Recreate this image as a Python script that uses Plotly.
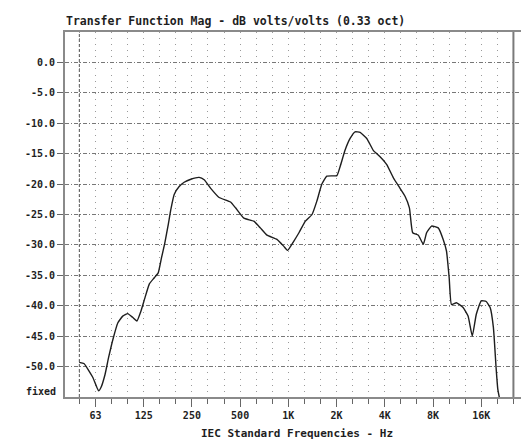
import math
import plotly.graph_objects as go

# ---- data ----
freq_hz = [50, 53.5, 60.8, 66.0, 68.4, 72.4, 76.2, 81.1, 87.0, 93.3, 100.2, 107.4, 114.3, 121.0,
           128.2, 136.6, 146.6, 155.1, 162.6, 170.4, 178.9, 185.7, 194.9, 209.4, 224.8, 247.5,
           278.7, 299.6, 328.9, 370.9, 436.9, 469.4, 528.9, 609.6, 669.2, 736.5, 849.2, 934.7,
           989.6, 1080, 1164, 1276, 1404, 1504, 1616, 1735, 2004, 2100, 2255, 2422, 2601, 2794,
           3074, 3383, 3720, 4094, 4506, 4952, 5318, 5663, 5934, 6435, 6911, 7245, 7777, 8555,
           9186, 9630, 10010, 10340, 11110, 12220, 13120, 13940, 14760, 15840, 17010, 18000,
           18860, 19600, 20080, 21050]
mag_db = [-49.3, -49.5, -51.8, -54.0, -53.4, -51.3, -48.5, -45.5, -42.8, -41.7, -41.3, -41.9,
          -42.5, -40.9, -38.7, -36.4, -35.4, -34.6, -32.1, -29.7, -26.7, -24.2, -21.7, -20.4,
          -19.7, -19.2, -18.9, -19.3, -20.7, -22.2, -22.95, -23.9, -25.6, -26.1, -27.2, -28.4,
          -29.1, -30.2, -30.9, -29.4, -28.0, -26.1, -25.0, -22.8, -20.0, -18.7, -18.6, -17.1,
          -14.4, -12.5, -11.4, -11.5, -12.5, -14.5, -15.5, -16.8, -19.0, -20.7, -22.0, -23.9,
          -28.0, -28.4, -29.9, -28.0, -26.9, -27.2, -29.1, -31.0, -35.4, -39.8, -39.5, -40.3,
          -41.7, -45.0, -41.4, -39.2, -39.3, -40.3, -43.6, -50.2, -53.7, -56.5]

x_tick_vals = [63.1, 125.9, 251.2, 501.2, 1000, 1995, 3981, 7943, 15849]
x_tick_text = ["63", "125", "250", "500", "1K", "2K", "4K", "8K", "16K"]
x_minor_vals = [50.1, 63.1, 79.4, 100, 125.9, 158.5, 199.5, 251.2, 316.2, 398.1, 501.2, 631,
                794.3, 1000, 1259, 1585, 1995, 2512, 3162, 3981, 5012, 6310, 7943, 10000,
                12589, 15849, 19953, 25119]
y_tick_vals = [0, -5, -10, -15, -20, -25, -30, -35, -40, -45, -50]
y_tick_text = ["0.0", "-5.0", "-10.0", "-15.0", "-20.0", "-25.0", "-30.0", "-35.0",
               "-40.0", "-45.0", "-50.0"]
x_range_hz = [40.8, 31400]
y_range_db = [-55, 5]
marker_left_hz = 50.1
marker_right_hz = 25119

MONO = "DejaVu Sans Mono"
INK = "#1e1e1e"
dotdash = "1px,5.08px"

fig = go.Figure()
fig.add_trace(go.Scatter(x=[marker_left_hz, marker_left_hz], y=y_range_db, mode="lines",
                         line=dict(color="#555555", width=1, dash="3px,2px"),
                         hoverinfo="skip"))
fig.add_trace(go.Scatter(x=[marker_right_hz, marker_right_hz], y=y_range_db, mode="lines",
                         line=dict(color="#7a7a7a", width=2), hoverinfo="skip"))
fig.add_trace(go.Scatter(x=freq_hz, y=mag_db, mode="lines",
                         line=dict(color=INK, width=1.4, shape="spline", smoothing=0.4)))

fig.update_layout(
    width=529, height=441,
    margin=dict(l=57, r=6, t=24, b=52),
    plot_bgcolor="white", paper_bgcolor="white",
    showlegend=False,
    title=dict(text="Transfer Function Mag - dB volts/volts (0.33 oct)",
               font=dict(family=MONO, size=11.5, color=INK, weight="bold"),
               xref="container", x=58 / 529, xanchor="left",
               yref="container", y=1 - 13 / 441, yanchor="middle"),
)
fig.update_xaxes(
    type="log",
    range=[math.log10(x_range_hz[0]), math.log10(x_range_hz[1])],
    tickmode="array", tickvals=x_tick_vals, ticktext=x_tick_text,
    ticks="outside", ticklen=8, tickwidth=1, tickcolor="#666666",
    tickfont=dict(family=MONO, size=10, color=INK, weight="bold"),
    showline=True, linecolor="#8a8a8a", linewidth=2, mirror=True,
    showgrid=True, gridcolor="#9a9a9a", gridwidth=1, griddash=dotdash,
    zeroline=False,
    minor=dict(tickmode="array", tickvals=x_minor_vals, ticks="outside", ticklen=5,
               tickwidth=1, tickcolor="#666666",
               showgrid=True, gridcolor="#9a9a9a", gridwidth=1, griddash=dotdash),
)
fig.update_yaxes(
    range=y_range_db,
    tickmode="array", tickvals=y_tick_vals, ticktext=y_tick_text,
    ticks="outside", ticklen=6, tickwidth=1, tickcolor="#666666",
    tickfont=dict(family=MONO, size=10, color=INK, weight="bold"),
    showline=True, linecolor="#8a8a8a", linewidth=2, mirror=True,
    showgrid=True, gridcolor="#777777", gridwidth=1, griddash="4px,2px,1px,2px",
    zeroline=False,
)
fig.add_annotation(text="IEC Standard Frequencies - Hz", xref="paper", yref="paper",
                   x=0.5, y=-(425 - 389) / 365, xanchor="center", yanchor="middle",
                   showarrow=False, font=dict(family=MONO, size=11, color=INK, weight="bold"))
fig.add_annotation(text="fixed", xref="paper", yref="paper",
                   x=-(57 - 50) / 466, y=(389 - 383 - 365) / 365 + 1, xanchor="right",
                   yanchor="middle", showarrow=False,
                   font=dict(family=MONO, size=10, color=INK, weight="bold"))

# clipped legend fragments at the right edge of the page (pixel boxes)
for (x0, y0, x1, y1) in [(526, 29, 529, 42), (526, 48, 529, 60), (526, 103, 529, 113)]:
    fig.add_shape(type="rect", xref="paper", yref="paper",
                  x0=(x0 - 57) / 466, x1=(x1 - 57) / 466,
                  y0=(389 - y1) / 365, y1=(389 - y0) / 365,
                  line=dict(width=0), fillcolor="#333333")

fig.write_html("out.html")
